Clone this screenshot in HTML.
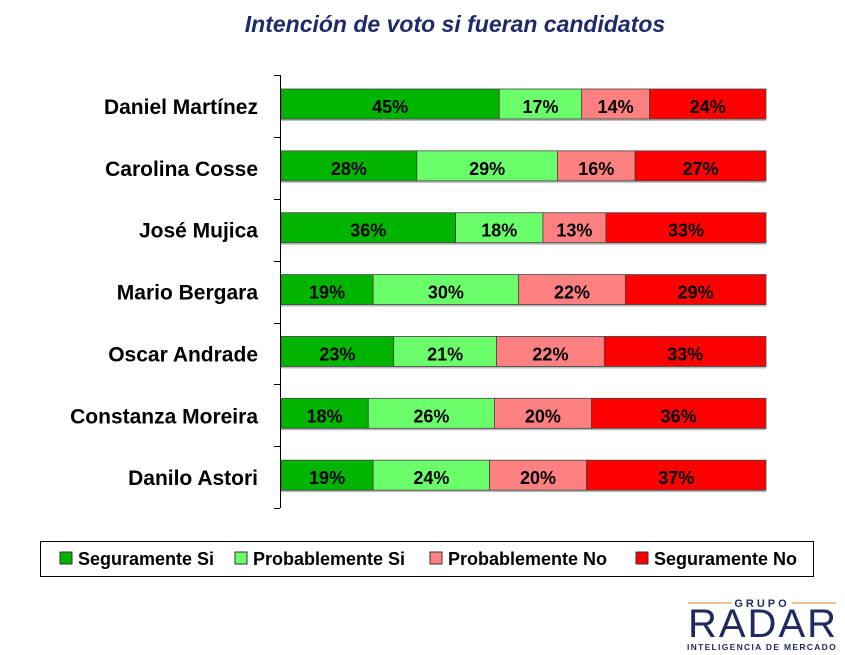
<!DOCTYPE html>
<html><head><meta charset="utf-8"><style>
body{margin:0;width:845px;height:655px;background:#fff;font-family:"Liberation Sans",sans-serif;position:relative;overflow:hidden}
.t{position:absolute;left:0;width:910px;top:11px;text-align:center;font-size:23px;font-weight:bold;font-style:italic;color:#1f2a6b}
</style></head><body>
<div class="t">Intención de voto si fueran candidatos</div>
<svg width="845" height="655" style="position:absolute;left:0;top:0" font-family="Liberation Sans, DejaVu Sans, sans-serif">
<g id="bars"></g>
<line x1="280.5" y1="75" x2="280.5" y2="508" stroke="#000"/>
<g stroke="#000">
<line x1="274" y1="75.5" x2="280" y2="75.5"/><line x1="274" y1="137.5" x2="280" y2="137.5"/><line x1="274" y1="199.5" x2="280" y2="199.5"/><line x1="274" y1="261.5" x2="280" y2="261.5"/><line x1="274" y1="323.5" x2="280" y2="323.5"/><line x1="274" y1="384.5" x2="280" y2="384.5"/><line x1="274" y1="446.5" x2="280" y2="446.5"/><line x1="274" y1="508.5" x2="280" y2="508.5"/>
</g>
<rect x="40.5" y="541.5" width="773" height="35" fill="#fff" stroke="#000"/>
<g font-size="18" font-weight="bold" fill="#000">
<rect x="60" y="552" width="12" height="12" fill="#00b400" stroke="#333"/><text x="78" y="565">Seguramente Si</text>
<rect x="235" y="552" width="12" height="12" fill="#6aff6a" stroke="#333"/><text x="253" y="565">Probablemente Si</text>
<rect x="430" y="552" width="12" height="12" fill="#ff8080" stroke="#333"/><text x="448" y="565">Probablemente No</text>
<rect x="636" y="552" width="12" height="12" fill="#ff0000" stroke="#333"/><text x="654" y="565">Seguramente No</text>
</g>
<g text-anchor="middle" fill="#1f2a5e" font-weight="bold">
<line x1="688" y1="603" x2="732" y2="603" stroke="#f0a868" stroke-width="1.5"/>
<line x1="792" y1="603" x2="836" y2="603" stroke="#f0a868" stroke-width="1.5"/>
<text x="762" y="607" font-size="11" letter-spacing="3">GRUPO</text>
<text x="763" y="637" font-size="40" font-weight="normal" letter-spacing="2">RADAR</text>
<text x="762" y="650" font-size="8.5" letter-spacing="1.3">INTELIGENCIA DE MERCADO</text>
</g>
</svg>
<script>
var d=[["Daniel Martínez",45,17,14,24],["Carolina Cosse",28,29,16,27],["José Mujica",36,18,13,33],["Mario Bergara",19,30,22,29],["Oscar Andrade",23,21,22,33],["Constanza Moreira",18,26,20,36],["Danilo Astori",19,24,20,37]];
var c=["#00b400","#6aff6a","#ff8080","#ff0000"],s="";
d.forEach(function(r,i){var y=89+i*61.86,x=281,tot=r[1]+r[2]+r[3]+r[4];
s+='<text x="258" y="'+(y+25)+'" text-anchor="end" font-size="21" font-weight="bold">'+r[0]+'</text>';
s+='<rect x="281" y="'+(y+30)+'" width="485" height="2" fill="#bbb"/>';
for(var k=0;k<4;k++){var w=485*r[k+1]/tot;
s+='<rect x="'+x+'" y="'+y+'" width="'+w+'" height="30" fill="'+c[k]+'" stroke="#444" stroke-width="0.8"/>';
s+='<text x="'+(x+w/2)+'" y="'+(y+24)+'" text-anchor="middle" font-size="18" font-weight="bold">'+r[k+1]+'%</text>';x+=w;}});
document.getElementById("bars").innerHTML=s;
</script>
</body></html>
